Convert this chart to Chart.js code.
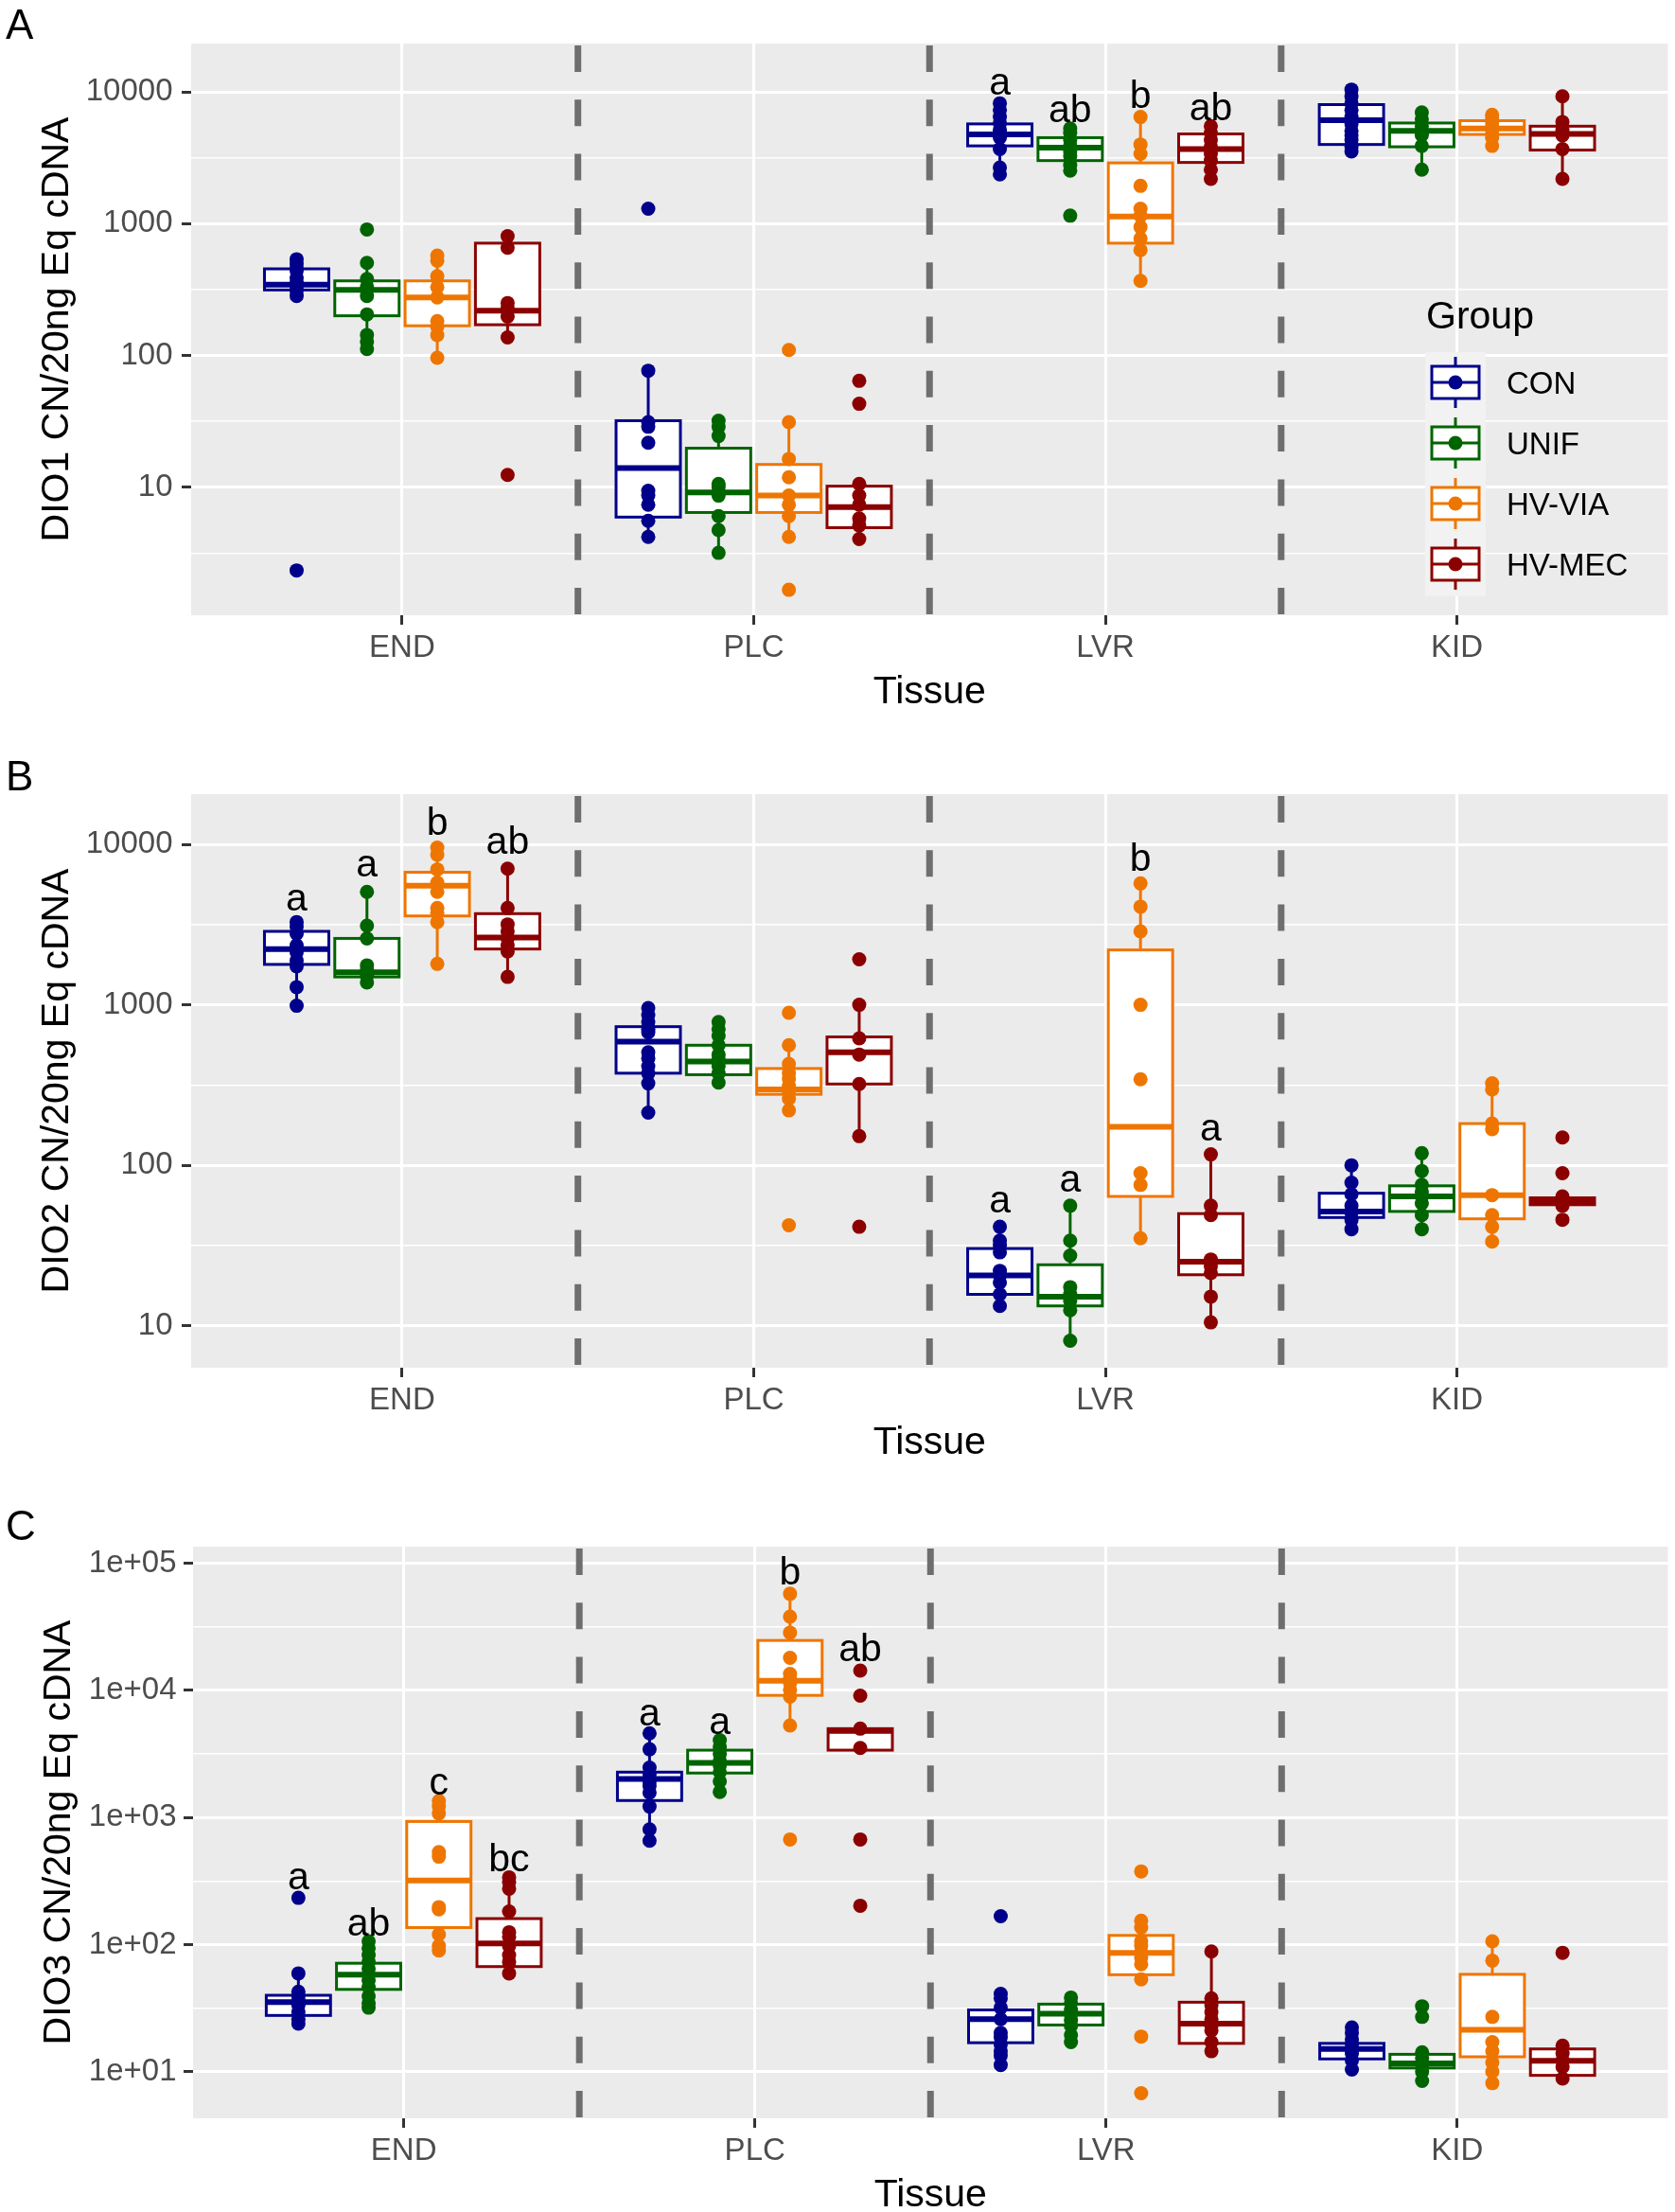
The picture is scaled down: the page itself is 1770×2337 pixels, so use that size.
<!DOCTYPE html>
<html>
<head>
<meta charset="utf-8">
<script src="https://cdn.jsdelivr.net/npm/chart.js@4.4.0/dist/chart.umd.min.js"></script>
<style>
  body { margin: 0; background: #fff; width: 1770px; height: 2337px; position: relative; overflow: hidden; }
  canvas { position: absolute; left: 0; }
</style>
</head>
<body>
<canvas id="panelA" width="1770" height="790" style="top:0px"></canvas>
<canvas id="panelB" width="1770" height="790" style="top:790px"></canvas>
<canvas id="panelC" width="1770" height="790" style="top:1580px"></canvas>
<script>
const tissues = ['END', 'PLC', 'LVR', 'KID'];
const groups = ['CON', 'UNIF', 'HV-VIA', 'HV-MEC'];
const groupColors = ['#00008B', '#006400', '#EE7600', '#8B0000'];

// ---- DIO1 (A): points per tissue (END, PLC, LVR, KID)
const dio1Con  = [[537, 495, 460, 440, 390, 360, 345, 332, 310, 283, 2.34], [1297, 76.6, 31.2, 28.8, 21.8, 9.4, 8.65, 7.38, 5.57, 4.2], [8180, 7260, 6440, 5800, 5150, 4870, 4490, 3675, 2665, 2366], [10400, 9250, 8180, 7260, 6440, 5710, 5060, 4680, 4315, 3828, 3535]];
const dio1Unif = [[904, 504, 380, 332, 283, 205, 143, 127, 112], [32, 28.8, 24.5, 10.6, 10, 8.65, 6.04, 4.74, 3.18], [5270, 4870, 4315, 3890, 3535, 3265, 2775, 2523, 1150], [6980, 6180, 5485, 4870, 4700, 3890, 2565]];
const dio1Via  = [[573, 524, 399, 330, 276, 182, 165, 143, 96], [110, 31.2, 16.4, 11.9, 8.65, 7.38, 6.04, 4.2, 1.67], [6440, 3985, 3390, 1935, 1297, 1150, 942, 771, 631, 368], [6700, 6300, 5900, 5485, 5060, 4490, 3890]];
const dio1Mec  = [[802, 657, 250, 228, 197, 137, 12.4], [64.2, 43, 10.6, 8.65, 7.38, 5.8, 5.14, 4.05], [5485, 4870, 4315, 3828, 3390, 3008, 2565, 2183], [9250, 5900, 5110, 4680, 3675, 2183]];
// box summaries: [lower whisker, Q1, median, Q3, upper whisker]
const dio1ConBox  = [[283, 314, 345, 454, 537], [4.2, 5.94, 14, 32, 76.6], [2366, 3890, 4750, 5710, 8180], [3535, 3985, 6090, 8000, 10400]];
const dio1UnifBox = [[112, 200, 314, 368, 504], [3.18, 6.44, 9.16, 19.8, 32], [2523, 3008, 3766, 4490, 5270], [2565, 3828, 5060, 5800, 6980]];
const dio1ViaBox  = [[96, 168, 276, 368, 573], [4.2, 6.44, 8.65, 14.9, 31.2], [368, 711, 1133, 2890, 6440], [3890, 4750, 5270, 6040, 6700]];
const dio1MecBox  = [[137, 171, 219, 711, 802], [4.05, 4.94, 7.08, 10.2, 10.6], [2183, 2912, 3675, 4790, 5485], [2183, 3615, 4790, 5485, 9250]];
const dio1Letters = [['LVR', 'CON', 'a', 9460], ['LVR', 'UNIF', 'ab', 5930], ['LVR', 'HV-VIA', 'b', 7540], ['LVR', 'HV-MEC', 'ab', 6080]];
const dio1Ticks = [10, 100, 1000, 10000];

// ---- DIO2 (B)
const dio2Con  = [[3281, 3070, 2775, 2349, 2127, 1886, 1740, 1289, 987], [955, 863, 781, 706, 674, 506, 464, 414, 375, 324, 213], [41.4, 33.9, 31.7, 28.7, 22, 20.6, 18.6, 15.7, 13.3], [100, 78, 66, 56, 50.6, 45.8, 40]];
const dio2Unif = [[5060, 3112, 2594, 1762, 1649, 1523, 1377], [781, 706, 640, 560, 490, 458, 414, 375, 328], [56, 33.9, 27.4, 17.4, 15.7, 14.3, 12.5, 8.07], [119, 92.2, 75.5, 68.4, 64, 57.8, 49, 40]];
const dio2Via  = [[9550, 8630, 6970, 5780, 5060, 4010, 3750, 3281, 1800], [893, 560, 428, 375, 346, 311, 287, 260, 220, 42.3], [5710, 4090, 2870, 1000, 344, 89.3, 75.5, 35.1], [324, 297, 182, 168, 65.2, 49, 41.4, 33.5]];
const dio2Mec  = [[7060, 4010, 3170, 2870, 2594, 2349, 2153, 1493], [1923, 1000, 618, 490, 321, 152, 41.4], [117, 56, 49, 25.9, 23.5, 21.3, 15.2, 10.5], [149, 89.3, 64, 59.8, 56, 45.8]];
const dio2ConBox  = [[987, 1786, 2228, 2870, 3281], [213, 375, 590, 731, 955], [13.3, 15.7, 20.6, 30.3, 41.4], [40, 47.3, 51.5, 67, 100]];
const dio2UnifBox = [[1377, 1493, 1596, 2594, 5060], [328, 367, 443, 560, 781], [8.07, 13.3, 15.2, 24, 56], [40, 51.6, 64, 74.5, 119]];
const dio2ViaBox  = [[1800, 3580, 5520, 6700, 9550], [220, 277, 297, 401, 560], [35.1, 64, 174, 2198, 5710], [33.5, 46.4, 65.2, 182, 324]];
const dio2MecBox  = [[1493, 2228, 2630, 3700, 7060], [152, 321, 506, 631, 1000], [10.5, 20.8, 25.1, 50, 117], [56, 56.8, 59.8, 62.7, 64]];
const dio2Letters = [['END', 'CON', 'a', 3873], ['END', 'UNIF', 'a', 6270], ['END', 'HV-VIA', 'b', 11430], ['END', 'HV-MEC', 'ab', 8750],
                     ['LVR', 'CON', 'a', 50.6], ['LVR', 'UNIF', 'a', 68.4], ['LVR', 'HV-VIA', 'b', 6840], ['LVR', 'HV-MEC', 'a', 142.6]];
const dio2Ticks = [10, 100, 1000, 10000];

// ---- DIO3 (C)
const dio3Con  = [[233, 59.3, 42.6, 39.2, 36.1, 33.3, 29.4, 25.9, 23.9], [4590, 3436, 2466, 2178, 1923, 1770, 1563, 1218, 806, 656], [167, 40.9, 37.7, 31.9, 25.9, 20.2, 18.6, 16.4, 14.5, 13.4, 11.3], [22.3, 20.2, 17.9, 16.4, 15.1, 13.9, 12.3, 10.4]];
const dio3Unif = [[106, 93.5, 82.6, 72.9, 64.4, 57.9, 52.4, 46.2, 39.2, 34.7, 31.9], [4055, 3580, 3162, 2793, 2570, 2270, 1923, 1588], [38.3, 34.7, 30.6, 28.2, 25.3, 22.9, 19.4, 17.1], [32.7, 27, 14.2, 12.8, 11.3, 10, 8.47]];
const dio3Via  = [[1345, 1218, 1076, 533, 491, 197, 189, 120, 97.6, 89.8], [57400, 37900, 28400, 18000, 13460, 12400, 11430, 10090, 8920, 5290, 671], [376, 154, 136, 106, 97.6, 86.1, 79.3, 70, 53.3, 18.9, 6.78], [106, 74.8, 27, 17.1, 14.5, 11.8, 10, 8.13]];
const dio3Mec  = [[338, 311, 275, 182, 125, 115, 97.6, 82.6, 72.9, 59.3], [14290, 9060, 4990, 3520, 671, 202], [88.3, 37.7, 33.3, 29.4, 25.9, 22.9, 21.1, 17.1, 14.5], [86.1, 16, 13.9, 12.3, 10.9, 8.83]];
const dio3ConBox  = [[23.9, 27.7, 35.2, 39.9, 59.3], [656, 1358, 2004, 2270, 4590], [11.3, 16.9, 25.9, 30.6, 40.9], [10.4, 12.6, 15.1, 16.7, 22.3]];
const dio3UnifBox = [[31.9, 44.4, 57.9, 71.3, 106], [1588, 2234, 2680, 3380, 4055], [17.1, 23.3, 28.6, 34, 38.3], [8.47, 10.7, 11.6, 13.7, 14.2]];
const dio3ViaBox  = [[89.8, 136, 319, 929, 1345], [5290, 9120, 11900, 24660, 57400], [53.3, 57.9, 86.1, 118, 154], [8.13, 13.1, 21.4, 58.3, 106]];
const dio3MecBox  = [[59.3, 67.1, 102, 160, 338], [3380, 3380, 4790, 4990, 4990], [14.5, 16.7, 23.9, 35.2, 88.3], [8.83, 9.36, 12.2, 15.1, 16]];
const dio3Letters = [['END', 'CON', 'a', 270], ['END', 'UNIF', 'ab', 118], ['END', 'HV-VIA', 'c', 1500], ['END', 'HV-MEC', 'bc', 376],
                     ['PLC', 'CON', 'a', 5280], ['PLC', 'UNIF', 'a', 4520], ['PLC', 'HV-VIA', 'b', 67700], ['PLC', 'HV-MEC', 'ab', 17000]];
const dio3Ticks = [10, 100, 1000, 10000, 100000];

const FONT = '"Liberation Sans", Arial, sans-serif';
const groupOffsets = [-0.3, -0.1, 0.1, 0.3];
const boxHalf = 0.0915;

function isMajor(v) {
  const l = Math.log10(v);
  return Math.abs(l - Math.round(l)) < 1e-6;
}
function plainLabel(v) { return String(Math.round(v)); }
function sciLabel(v) { return '1e+' + String(Math.round(Math.log10(v))).padStart(2, '0'); }

function makePanel(id, p) {
  // grid positions: decades plus half-decade minor lines
  const gridVals = [];
  p.majors.forEach(m => {
    [m / Math.sqrt(10), m, m * Math.sqrt(10)].forEach(v => {
      if (v >= p.yMin && v <= p.yMax && !gridVals.some(g => Math.abs(g - v) / v < 1e-6)) gridVals.push(v);
    });
  });
  gridVals.sort((a, b) => a - b);

  const datasets = groups.map((g, gi) => ({
    label: g,
    data: p.points[gi].flatMap((vals, ti) => vals.map(v => ({ x: ti + 1 + groupOffsets[gi], y: v }))),
    backgroundColor: groupColors[gi],
    borderColor: groupColors[gi],
    boxStats: p.boxes[gi]
  }));

  const panelPlugin = {
    id: 'panel' + id,
    beforeDraw(chart) {
      const { ctx, chartArea: a } = chart;
      ctx.save();
      ctx.fillStyle = '#EBEBEB';
      ctx.fillRect(a.left, a.top, a.right - a.left, a.bottom - a.top);
      ctx.restore();
    },
    beforeDatasetsDraw(chart) {
      const { ctx, chartArea: a } = chart;
      const xs = chart.scales.x, ys = chart.scales.y;
      ctx.save();
      // dashed separators between tissues
      ctx.strokeStyle = '#6E6E6E';
      ctx.lineWidth = 7;
      ctx.setLineDash([28, 29.3]);
      [1.5, 2.5, 3.5].forEach(v => {
        const x = xs.getPixelForValue(v);
        ctx.beginPath();
        ctx.moveTo(x, a.top + 2);
        ctx.lineTo(x, a.bottom);
        ctx.stroke();
      });
      ctx.setLineDash([]);
      // boxes
      chart.data.datasets.forEach((ds, gi) => {
        ds.boxStats.forEach((b, ti) => {
          const cx = xs.getPixelForValue(ti + 1 + groupOffsets[gi]);
          const hw = xs.getPixelForValue(1 + boxHalf) - xs.getPixelForValue(1);
          const [lo, q1, med, q3, hi] = b.map(v => ys.getPixelForValue(v));
          ctx.strokeStyle = ds.borderColor;
          ctx.lineWidth = 3;
          ctx.beginPath();
          ctx.moveTo(cx, q3); ctx.lineTo(cx, hi);
          ctx.moveTo(cx, q1); ctx.lineTo(cx, lo);
          ctx.stroke();
          ctx.fillStyle = '#FFFFFF';
          ctx.fillRect(cx - hw, q3, 2 * hw, q1 - q3);
          ctx.lineJoin = 'miter';
          ctx.strokeRect(cx - hw, q3, 2 * hw, q1 - q3);
          ctx.lineWidth = 6;
          ctx.beginPath();
          ctx.moveTo(cx - hw, med); ctx.lineTo(cx + hw, med);
          ctx.stroke();
        });
      });
      ctx.restore();
    },
    afterDatasetsDraw(chart) {
      const { ctx } = chart;
      const xs = chart.scales.x, ys = chart.scales.y;
      ctx.save();
      ctx.fillStyle = '#000';
      ctx.font = '41px ' + FONT;
      ctx.textAlign = 'center';
      ctx.textBaseline = 'alphabetic';
      p.letters.forEach(([t, g, txt, v]) => {
        const x = xs.getPixelForValue(tissues.indexOf(t) + 1 + groupOffsets[groups.indexOf(g)]);
        ctx.fillText(txt, x, ys.getPixelForValue(v));
      });
      if (p.legend) {
        ctx.textAlign = 'left';
        ctx.textBaseline = 'middle';
        ctx.font = '41px ' + FONT;
        ctx.fillText('Group', 1507, 336);
        ctx.fillStyle = '#F2F2F2';
        ctx.fillRect(1506, 372, 64, 258);
        groups.forEach((g, gi) => {
          const cy = 404 + gi * 64;
          const cx = 1538;
          ctx.strokeStyle = groupColors[gi];
          ctx.lineWidth = 3;
          ctx.beginPath();
          ctx.moveTo(cx, cy - 27); ctx.lineTo(cx, cy - 17);
          ctx.moveTo(cx, cy + 17); ctx.lineTo(cx, cy + 27);
          ctx.stroke();
          ctx.fillStyle = '#FFFFFF';
          ctx.fillRect(1513, cy - 17, 50, 34);
          ctx.strokeRect(1513, cy - 17, 50, 34);
          ctx.beginPath();
          ctx.moveTo(1513, cy); ctx.lineTo(1563, cy);
          ctx.stroke();
          ctx.fillStyle = groupColors[gi];
          ctx.beginPath();
          ctx.arc(cx, cy, 7.5, 0, Math.PI * 2);
          ctx.fill();
          ctx.fillStyle = '#000';
          ctx.font = '33px ' + FONT;
          ctx.fillText(g, 1592, cy + 3);
        });
      }
      ctx.restore();
    },
    afterDraw(chart) {
      const { ctx } = chart;
      ctx.save();
      ctx.fillStyle = '#000';
      ctx.font = '44px ' + FONT;
      ctx.textAlign = 'left';
      ctx.textBaseline = 'alphabetic';
      ctx.fillText(p.tag, 6, p.tagBase);
      ctx.restore();
    }
  };

  new Chart(document.getElementById(id), {
    type: 'scatter',
    data: { datasets },
    plugins: [panelPlugin],
    options: {
      responsive: false,
      animation: false,
      devicePixelRatio: 1,
      events: [],
      layout: { padding: { top: p.top, right: 1770 - p.right, left: 0, bottom: 0 } },
      elements: { point: { radius: 7.5, hoverRadius: 7.5, borderWidth: 0 } },
      plugins: { legend: { display: false }, tooltip: { enabled: false } },
      scales: {
        x: {
          type: 'linear', min: 0.4, max: 4.6, bounds: 'data',
          afterBuildTicks: s => { s.ticks = tissues.map((t, i) => ({ value: i + 1 })); },
          afterFit: s => { s.height = 790 - p.bottom; },
          ticks: {
            callback: v => tissues[Math.round(v) - 1],
            color: '#4D4D4D', font: { family: FONT, size: 33 }, padding: 5,
            autoSkip: false, maxRotation: 0
          },
          grid: { color: '#FFFFFF', lineWidth: 3, tickLength: 10, tickColor: '#333333', tickWidth: 3 },
          border: { display: false },
          title: { display: true, text: 'Tissue', color: '#000', font: { family: FONT, size: 41 }, padding: { top: 0, bottom: p.xTitlePad } }
        },
        y: {
          type: 'logarithmic', min: p.yMin, max: p.yMax, bounds: 'data',
          afterBuildTicks: s => { s.ticks = gridVals.map(v => ({ value: v })); },
          afterFit: s => { s.width = p.left; },
          ticks: {
            callback: v => isMajor(v) ? p.fmt(v) : '',
            color: '#4D4D4D', font: { family: FONT, size: 33 }, padding: p.tickPad, autoSkip: false
          },
          grid: {
            color: '#FFFFFF',
            lineWidth: c => (c.tick && isMajor(c.tick.value)) ? 3 : 1.5,
            tickLength: 10,
            tickColor: c => (c.tick && isMajor(c.tick.value)) ? '#333333' : 'rgba(0,0,0,0)',
            tickWidth: 3
          },
          border: { display: false },
          title: { display: true, text: p.yTitle, color: '#000', font: { family: FONT, size: 41 }, padding: { top: p.yTitlePad, bottom: 0 } }
        }
      }
    }
  });
}

makePanel('panelA', {
  tag: 'A', tagBase: 41, legend: true,
  points: [dio1Con, dio1Unif, dio1Via, dio1Mec],
  boxes: [dio1ConBox, dio1UnifBox, dio1ViaBox, dio1MecBox],
  letters: dio1Letters, majors: dio1Ticks, fmt: plainLabel,
  yMin: 1.07, yMax: 23240, yTitle: 'DIO1 CN/20ng Eq cDNA',
  top: 46, bottom: 650, left: 202, right: 1765,
  tickPad: 9.5, yTitlePad: 36, xTitlePad: 34
});
makePanel('panelB', {
  tag: 'B', tagBase: 45, legend: false,
  points: [dio2Con, dio2Unif, dio2Via, dio2Mec],
  boxes: [dio2ConBox, dio2UnifBox, dio2ViaBox, dio2MecBox],
  letters: dio2Letters, majors: dio2Ticks, fmt: plainLabel,
  yMin: 5.48, yMax: 20560, yTitle: 'DIO2 CN/20ng Eq cDNA',
  top: 49, bottom: 655, left: 202, right: 1765,
  tickPad: 9.5, yTitlePad: 36, xTitlePad: 30.5
});
makePanel('panelC', {
  tag: 'C', tagBase: 47, legend: false,
  points: [dio3Con, dio3Unif, dio3Via, dio3Mec],
  boxes: [dio3ConBox, dio3UnifBox, dio3ViaBox, dio3MecBox],
  letters: dio3Letters, majors: dio3Ticks, fmt: sciLabel,
  yMin: 4.30, yMax: 134900, yTitle: 'DIO3 CN/20ng Eq cDNA',
  top: 54, bottom: 658, left: 204, right: 1765,
  tickPad: 7.5, yTitlePad: 38.5, xTitlePad: 26
});
</script>
</body>
</html>
